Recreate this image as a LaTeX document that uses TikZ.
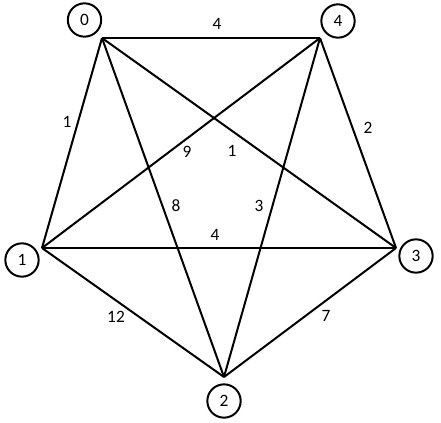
\documentclass[tikz,border=0pt]{standalone}
\usepackage{fontspec}
\setmainfont{Carlito}
\begin{document}
\begin{tikzpicture}[x=0.75pt,y=-0.75pt,
  vert/.style={circle,draw,line width=1.5pt,minimum size=25pt,inner sep=0pt,font=\fontsize{13}{15}\selectfont},
  edge/.style={line width=1.5pt},
  wlabel/.style={inner sep=0pt,font=\fontsize{13}{15}\selectfont}]
\useasboundingbox[fill=white] (0,0) rectangle (441,423);
% vertex points
\coordinate (v0) at (102,38);
\coordinate (v4) at (320,38);
\coordinate (v1) at (42,248);
\coordinate (v3) at (396,248);
\coordinate (v2) at (224,377);
% circles
\node[vert] (c0) at (84.5,20) {0};
\node[vert] (c4) at (338,21) {4};
\node[vert] (c1) at (22,260) {1};
\node[vert] (c3) at (416,256) {3};
\node[vert] (c2) at (224,401) {2};
% edges
\draw[edge] (v0) -- (v4);
\draw[edge] (v0) -- (v1);
\draw[edge] (v0) -- (v2);
\draw[edge] (v0) -- (v3);
\draw[edge] (v4) -- (v1);
\draw[edge] (v4) -- (v2);
\draw[edge] (v4) -- (v3);
\draw[edge] (v1) -- (v3);
\draw[edge] (v1) -- (v2);
\draw[edge] (v2) -- (v3);
% weights
\node[wlabel] (w04) at (217,24) {4};
\node[wlabel] (w01) at (67,122) {1};
\node[wlabel] (w41) at (187,152) {9};
\node[wlabel] (w03) at (232,151) {1};
\node[wlabel] (w43) at (368,128) {2};
\node[wlabel] (w02) at (176,206) {8};
\node[wlabel] (w42) at (259,206) {3};
\node[wlabel] (w13) at (215,235) {4};
\node[wlabel] (w12) at (116,317) {12};
\node[wlabel] (w23) at (326,316) {7};
\end{tikzpicture}
\end{document}
